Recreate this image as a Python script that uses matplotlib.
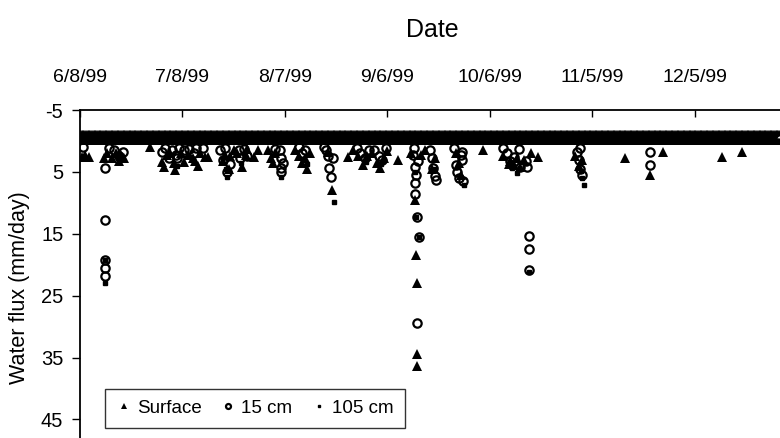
import matplotlib
matplotlib.use("Agg")
import matplotlib.pyplot as plt
import numpy as np
import pandas as pd

plt.rcParams['font.family'] = ['Liberation Sans', 'DejaVu Sans']
plt.rcParams['axes.unicode_minus'] = False

start = pd.Timestamp('1999-06-08')
tick_days = [0, 30, 60, 90, 120, 150, 180]
tick_labels = ['6/8/99', '7/8/99', '8/7/99', '9/6/99', '10/6/99', '11/5/99', '12/5/99']
y_ticks = [-5, 5, 15, 25, 35, 45]

# readings every 6 h; most of them sit on the zero-flux band
base_days = np.arange(0, 205.01, 0.25)
surface_base = -0.9
cm15_base = -0.3
cm105_base = 0.0

# excursions away from the band (day after 6/8/99, flux mm/day)
surface_days = [0.5, 1.5, 2.5, 7.0, 8.0, 9.5, 10.5, 11.5, 12.0, 13.0, 20.5, 24.0,
                24.5, 25.5, 26.5, 27.5, 27.8, 29.5, 30.5, 31.5, 33.0, 33.8, 34.5, 35.0,
                36.6, 37.5, 42.0, 42.5, 43.5, 44.0, 45.0, 46.0, 47.5, 48.5, 49.0, 51.0,
                52.0, 55.0, 56.0, 56.5, 57.0, 63.0, 64.0, 65.0, 66.0, 66.5, 67.5, 72.5,
                73.8, 78.5, 80.0, 81.5, 83.0, 84.0, 85.5, 87.0, 88.0, 89.0, 90.0, 93.0,
                97.0, 98.0, 98.5, 98.8, 98.8, 98.6, 100.0, 101.0, 103.0, 104.0, 110.0,
                111.0, 111.5, 118.0, 124.0, 125.5, 126.0, 127.0, 128.0, 129.0, 130.0,
                132.0, 134.0, 145.0, 146.0, 147.0, 159.5, 166.8, 170.6, 188.0, 193.8]
surface_flux = [2.6, 2.2, 2.6, 2.7, 2.0, 2.8, 2.0, 3.3, 2.2, 2.7, 1.0, 3.4,
                4.2, 2.2, 2.0, 3.5, 4.7, 2.0, 3.4, 2.3, 2.8, 3.3, 4.0, 2.0,
                2.6, 2.6, 3.2, 2.2, 4.5, 2.5, 1.5, 2.0, 4.2, 2.2, 1.3, 2.6,
                1.5, 1.5, 2.8, 3.6, 2.0, 1.5, 2.4, 3.5, 2.8, 4.5, 2.0, 1.8,
                8.0, 2.6, 1.5, 2.5, 3.9, 2.5, 2.0, 3.6, 4.4, 2.8, 1.6, 3.1,
                2.0, 9.6, 18.4, 22.9, 34.4, 36.3, 2.2, 1.5, 4.5, 2.8, 2.0,
                3.5, 5.5, 1.5, 2.4, 3.8, 3.2, 3.9, 2.8, 4.2, 3.0,
                2.0, 2.6, 2.5, 4.0, 3.0, 2.7, 5.5, 1.8, 2.6, 1.8]

cm15_days = [1.0, 7.3, 7.3, 7.3, 7.3, 7.3, 8.5, 10.0, 11.5, 12.5, 24.0, 25.0,
             26.0, 27.0, 28.0, 28.5, 29.0, 30.5, 32.0, 33.5, 34.0, 36.0, 41.0, 42.0,
             42.5, 43.0, 44.0, 46.5, 47.0, 48.0, 49.0, 57.0, 58.5, 58.8, 58.8, 58.8,
             59.5, 64.0, 65.0, 66.0, 71.5, 72.0, 72.5, 73.0, 73.5, 74.0, 81.0, 82.0,
             83.5, 84.5, 86.0, 87.5, 88.5, 89.5, 97.5, 97.8, 98.0, 98.5, 98.0, 98.2,
             98.6, 99.2, 98.8, 99.0, 102.5, 103.0, 103.5, 104.0, 104.3, 109.5, 110.0,
             110.5, 111.0, 111.5, 112.0, 112.0, 112.3, 124.0, 125.0, 126.0, 127.0,
             128.5, 129.0, 130.5, 131.0, 131.5, 131.5, 131.5, 145.5, 146.0, 146.5,
             146.5, 147.0, 166.8, 166.8]
cm15_flux = [1.0, 4.4, 12.7, 19.2, 20.5, 21.8, 1.2, 1.5, 2.5, 1.8, 1.8, 1.2,
             2.8, 1.5, 2.2, 2.8, 1.1, 1.5, 1.3, 2.0, 1.2, 1.2, 1.5, 3.0,
             1.2, 5.0, 3.8, 1.5, 2.8, 1.3, 2.4, 1.3, 1.4, 2.8, 4.4, 5.0,
             3.5, 1.0, 2.0, 1.5, 1.0, 1.5, 2.5, 4.4, 5.8, 2.8, 1.2, 2.0,
             2.8, 1.5, 1.5, 2.5, 3.0, 1.2, 2.3, 1.2, 4.2, 5.5, 6.8, 8.5,
             12.3, 15.6, 29.4, 3.2, 1.4, 2.7, 4.4, 5.6, 6.3, 1.2, 3.9,
             5.0, 6.0, 2.2, 1.8, 3.0, 6.5, 1.2, 2.0, 3.3, 2.6,
             1.3, 4.2, 3.2, 4.2, 15.3, 17.5, 20.8, 1.8, 3.0, 4.5,
             1.2, 5.5, 1.8, 3.9]

cm105_days = [7.3, 7.3, 11.0, 28.3, 42.7, 43.0, 47.2, 59.0, 66.5, 74.3, 83.8, 88.2,
              98.2, 98.5, 99.4, 104.0, 110.7, 112.5, 126.5, 128.0, 131.5, 146.8,
              147.0, 147.5]
cm105_flux = [19.3, 23.0, 2.8, 4.0, 4.6, 5.8, 3.6, 5.8, 3.8, 9.8, 3.4, 3.7,
              5.0, 12.3, 15.6, 4.6, 4.2, 7.1, 4.3, 5.2, 21.2, 4.8,
              6.0, 7.1]


def to_dates(days):
    return start + pd.to_timedelta(np.asarray(days, dtype=float), unit='D')


fig = plt.figure(figsize=(7.8, 4.38), dpi=100)
ax = fig.add_axes([80 / 780, 0.0, 700 / 780, 1 - 110 / 438])

# band of readings near zero
ax.plot(to_dates(base_days), np.full(len(base_days), surface_base), '^', color='black',
        ms=7, mew=0, ls='none')
ax.plot(to_dates(base_days), np.full(len(base_days), cm15_base), 'o', mfc='white',
        mec='black', ms=6, mew=1.5, ls='none')
ax.plot(to_dates(base_days), np.full(len(base_days), cm105_base), 's', color='black',
        ms=3.5, ls='none')

ax.plot(to_dates(surface_days), surface_flux, '^', color='black', ms=7, mew=0,
        ls='none', label='Surface')
ax.plot(to_dates(cm15_days), cm15_flux, 'o', mfc='none', mec='black', ms=6, mew=1.6,
        ls='none', label='15 cm')
ax.plot(to_dates(cm105_days), cm105_flux, 's', color='black', ms=3.5, ls='none',
        label='105 cm')

ax.set_xlim(start, start + pd.Timedelta(days=205))
ax.set_ylim(48, -5)

ax.xaxis.tick_top()
ax.set_xticks(to_dates(tick_days))
ax.set_xticklabels(tick_labels)
ax.set_yticks(y_ticks)
ax.tick_params(axis='x', direction='in', length=5, width=1, pad=17, labelsize=14)
ax.tick_params(axis='y', direction='out', length=6, width=1, pad=6, labelsize=14.5)

for side in ['bottom', 'right']:
    ax.spines[side].set_visible(False)
for side in ['top', 'left']:
    ax.spines[side].set_linewidth(1.3)

fig.text(20 / 780, 1 - 288 / 438, 'Water flux (mm/day)', rotation=90,
         ha='center', va='center', fontsize=15.5)
fig.text(432 / 780, 1 - 30 / 438, 'Date', ha='center', va='center', fontsize=18)

leg = ax.legend(loc='lower left', bbox_to_anchor=(0.036, 0.03), ncol=3, frameon=True,
                fancybox=False, edgecolor='black', fontsize=13.5, markerscale=0.6,
                handletextpad=0.3, columnspacing=1.0, handlelength=0.8,
                borderpad=0.6, borderaxespad=0)
leg.get_frame().set_linewidth(1.0)

plt.savefig('out.png', dpi=100)
